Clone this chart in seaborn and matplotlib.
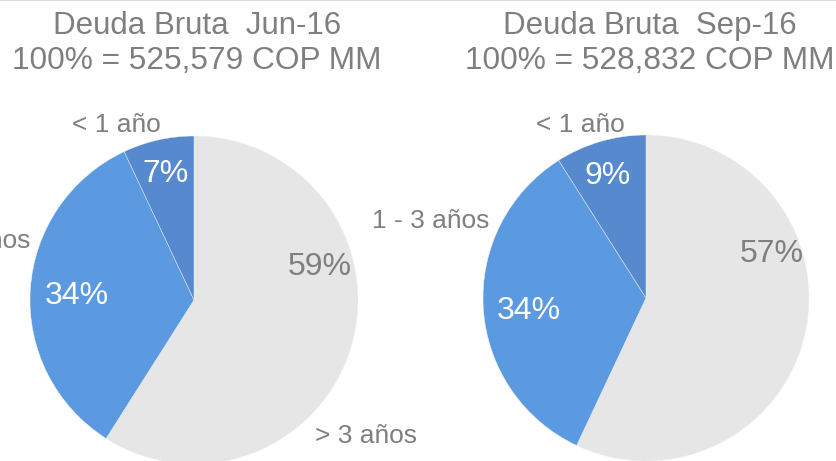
import matplotlib
matplotlib.use("Agg")
import matplotlib.pyplot as plt
from matplotlib.lines import Line2D
import seaborn as sns

# data
segments = ["> 3 años", "1 - 3 años", "< 1 año"]
jun16 = [59, 34, 7]
sep16 = [57, 34, 9]
titles = ["Deuda Bruta  Jun-16\n100% = 525,579 COP MM",
          "Deuda Bruta  Sep-16\n100% = 528,832 COP MM"]

colors = ["#e6e6e6", "#5b9ae0", "#5689cd"]
txt_gray = "#7f7f7f"

sns.set_theme(style="white")
plt.rcParams['font.family'] = ['Liberation Sans', 'DejaVu Sans']

W, H = 836, 461
fig = plt.figure(figsize=(W / 100, H / 100), dpi=100)
ax = fig.add_axes([0, 0, 1, 1])

def py(y):
    # pixel row -> data y
    return H - y

pies = [
    dict(vals=jun16, cx=194, cy=300, r=164, title_x=197,
         pct_pos=[(320, 275), (77, 304), (165, 182)],
         lab_pos=[(366, 443, "center"), (30, 248, "right"), (116, 132, "center")]),
    dict(vals=sep16, cx=646, cy=298, r=163, title_x=650,
         pct_pos=[(772, 262), (529, 319), (608, 184)],
         lab_pos=[None, (431, 228, "center"), (580, 132, "center")]),
]

for p, title in zip(pies, titles):
    ax.pie(p["vals"], colors=colors, startangle=90, counterclock=False,
           center=(p["cx"], py(p["cy"])), radius=p["r"],
           wedgeprops=dict(edgecolor="#f2f2f2", linewidth=0.3))
    l1, l2 = title.split("\n")
    ax.text(p["title_x"], py(34), l1, ha="center", va="baseline",
            fontsize=22.5, color=txt_gray)
    ax.text(p["title_x"], py(69), l2, ha="center", va="baseline",
            fontsize=22.8, color=txt_gray)
    for i, (v, (x, y)) in enumerate(zip(p["vals"], p["pct_pos"])):
        c = txt_gray if i == 0 else "white"
        ax.text(x, py(y), f"{v}%", ha="center", va="baseline",
                fontsize=23, color=c)
    for name, pos in zip(segments, p["lab_pos"]):
        if pos is None:
            continue
        x, y, ha = pos
        ax.text(x, py(y), name, ha=ha, va="baseline", fontsize=19, color=txt_gray)

ax.set_xlim(0, W)
ax.set_ylim(0, H)
ax.set_aspect("equal")
ax.axis("off")

fig.add_artist(Line2D([0, 1], [0.999, 0.999], color="#d9d9d9", lw=1.5,
                      transform=fig.transFigure))

fig.savefig("out.png", dpi=100)
